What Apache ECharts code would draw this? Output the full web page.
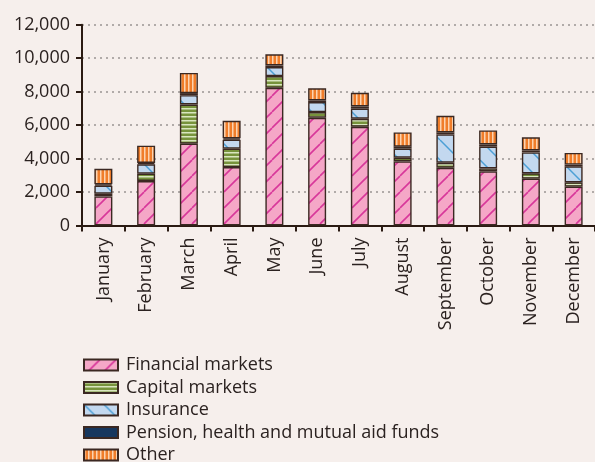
<!DOCTYPE html>
<html>
<head>
<meta charset="utf-8">
<script src="https://cdn.jsdelivr.net/npm/echarts@6/dist/echarts.min.js"></script>
<style>
  html, body { margin: 0; padding: 0; background: #f6efec; }
  #chart { width: 595px; height: 462px; }
</style>
</head>
<body>
<div id="chart"></div>
<script>
var months = ['January', 'February', 'March', 'April', 'May', 'June', 'July', 'August', 'September', 'October', 'November', 'December'];
var financial = [1740, 2660, 4890, 3490, 8230, 6440, 5900, 3830, 3450, 3230, 2800, 2320];
var capital = [160, 440, 2340, 1100, 700, 340, 480, 220, 300, 180, 320, 260];
var insurance = [480, 560, 560, 540, 540, 600, 600, 540, 1690, 1310, 1250, 960];
var pension = [80, 80, 120, 80, 100, 100, 140, 120, 120, 120, 120, 100];
var other = [930, 1030, 1210, 1050, 660, 720, 810, 850, 1000, 840, 780, 700];
var seriesNames = ['Financial markets', 'Capital markets', 'Insurance', 'Pension, health and mutual aid funds', 'Other'];

// small canvas tiles for the hatch fills
function tile(w, h, draw) {
	var c = document.createElement('canvas');
	c.width = w;
	c.height = h;
	draw(c.getContext('2d'), w, h);
	return { image: c, repeat: 'repeat' };
}

var pinkFill = tile(16, 16, function(ctx, w, h) {
	ctx.fillStyle = '#f5a7c7';
	ctx.fillRect(0, 0, w, h);
	ctx.strokeStyle = '#d8379a';
	ctx.lineWidth = 1.6;
	for (var k = -1; k <= 1; k++) {
		ctx.beginPath();
		ctx.moveTo(k * w, h);
		ctx.lineTo(k * w + w, 0);
		ctx.stroke();
	}
});
var greenFill = tile(4, 4, function(ctx, w, h) {
	ctx.fillStyle = '#77933c';
	ctx.fillRect(0, 0, w, h);
	ctx.fillStyle = '#d9e6bf';
	ctx.fillRect(0, 0, w, 1.5);
});
var blueFill = tile(20, 20, function(ctx, w, h) {
	ctx.fillStyle = '#c3d8ef';
	ctx.fillRect(0, 0, w, h);
	ctx.strokeStyle = '#4c9fd6';
	ctx.lineWidth = 1.5;
	for (var k = -1; k <= 1; k++) {
		ctx.beginPath();
		ctx.moveTo(k * w, 0);
		ctx.lineTo(k * w + w, h);
		ctx.stroke();
	}
});
var orangeFill = tile(4, 4, function(ctx, w, h) {
	ctx.fillStyle = '#f07d2a';
	ctx.fillRect(0, 0, w, h);
	ctx.fillStyle = '#fcd3b0';
	ctx.fillRect(0, 0, 1.5, h);
});
var fills = [pinkFill, greenFill, blueFill, '#17375e', orangeFill];
var values = [financial, capital, insurance, pension, other];

var textColor = '#2b2220';
var axisColor = '#2a1a12';

var myChart = echarts.init(document.getElementById('chart'));
var option = {
	backgroundColor: '#f6efec',
	animation: false,
	textStyle: { fontFamily: 'Open Sans' },
	grid: {
		left: 82,
		right: -7,
		top: 24.7,
		bottom: 236.5,
		containLabel: false
	},
	legend: {
		orient: 'vertical',
		left: 78,
		top: 351,
		height: 160,
		padding: 5,
		itemWidth: 34,
		itemHeight: 11,
		itemGap: 4.5,
		icon: 'rect',
		data: seriesNames,
		textStyle: {
			color: textColor,
			fontSize: 18,
			lineHeight: 18,
			padding: [0, 0, 0, 3]
		}
	},
	xAxis: {
		type: 'category',
		data: months,
		axisLine: { lineStyle: { color: axisColor, width: 2 } },
		axisTick: { show: true, length: 6, lineStyle: { color: axisColor, width: 2 } },
		axisLabel: {
			rotate: 90,
			interval: 0,
			margin: 12,
			color: textColor,
			fontSize: 18
		}
	},
	yAxis: {
		type: 'value',
		min: 0,
		max: 12000,
		interval: 2000,
		axisLine: { show: true, lineStyle: { color: axisColor, width: 2 } },
		axisTick: { show: true, length: 6, lineStyle: { color: axisColor, width: 2 } },
		axisLabel: {
			margin: 12,
			color: textColor,
			fontSize: 18,
			formatter: function(v) { return v.toLocaleString('en-US'); }
		},
		splitLine: {
			lineStyle: { color: '#9a9592', width: 1.5, type: [2, 4] }
		}
	},
	series: []
};
for (var i = 0; i < seriesNames.length; i++) {
	option.series.push({
		name: seriesNames[i],
		type: 'bar',
		stack: 'total',
		barWidth: 18,
		data: values[i],
		itemStyle: {
			color: fills[i],
			borderColor: '#3b2822',
			borderWidth: 1.4
		}
	});
}
myChart.setOption(option);
</script>
</body>
</html>
